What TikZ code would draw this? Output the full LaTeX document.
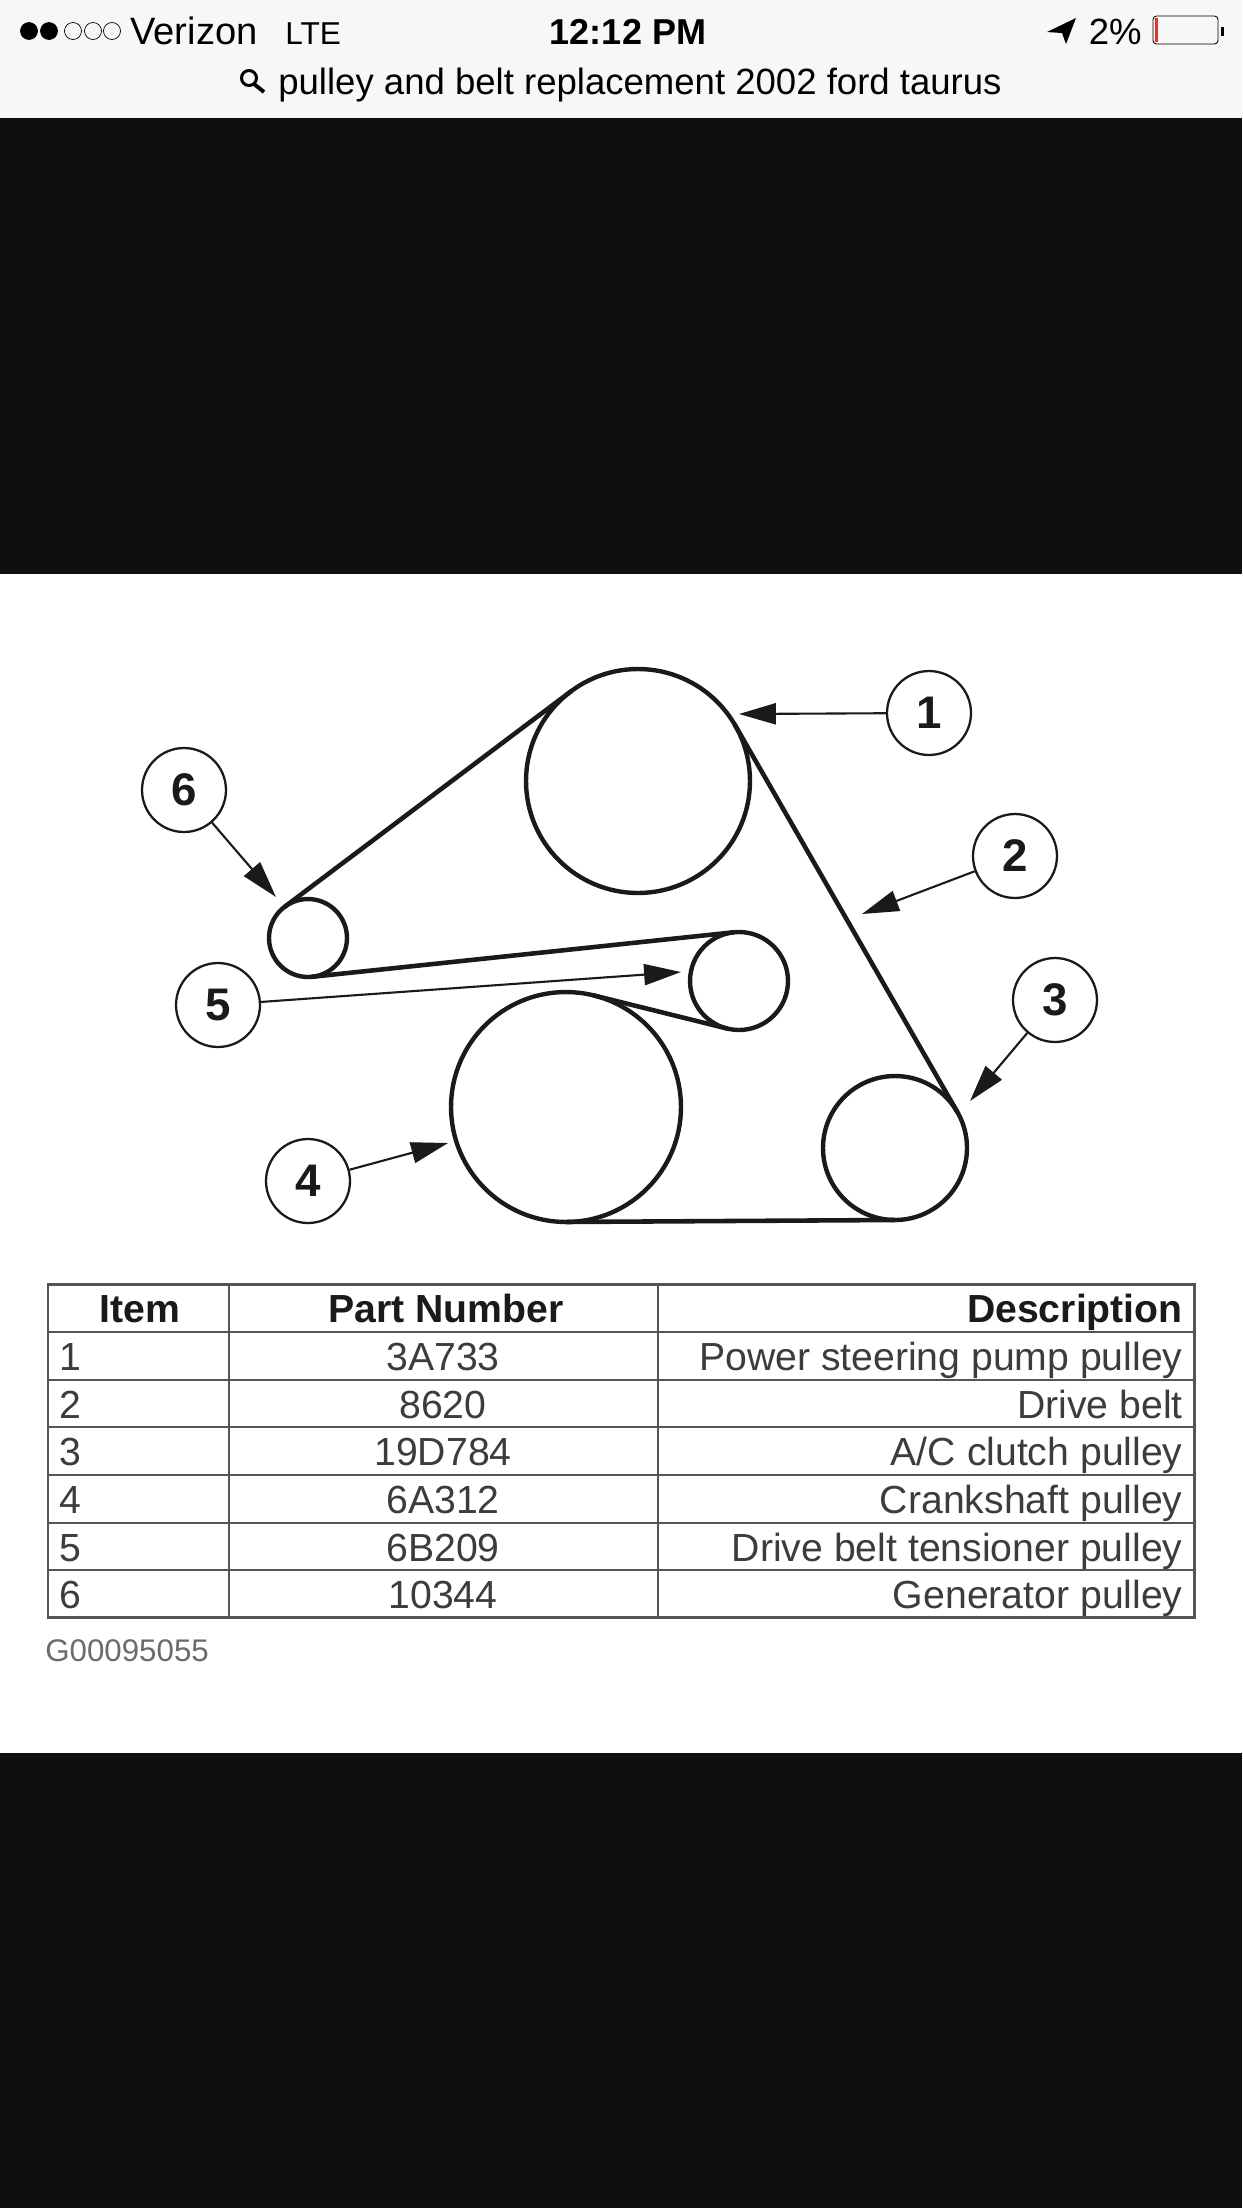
\documentclass[tikz,border=0pt]{standalone}
\usepackage{xcolor}
\usepackage{fontspec}
\setmainfont{Liberation Sans}
\usepackage{tikz}
\usetikzlibrary{
  arrows.meta,
  positioning
}
\definecolor{pgBar}{HTML}{F7F7F7}
\definecolor{pgDark}{HTML}{0F0F0F}
\definecolor{pgInk}{HTML}{1A1A1A}
\definecolor{pgRule}{HTML}{555555}
\definecolor{pgMute}{HTML}{6B6B6B}
\definecolor{pgRed}{HTML}{E0352B}
\tikzset{
  pulley/.style={draw=pgInk, circle, line width=2.5pt, inner sep=0pt, outer sep=0pt},
  belt/.style={draw=pgInk, line width=2.6pt, line cap=round},
  numcircle/.style={
    draw=pgInk, circle, line width=1.3pt, minimum size=2.4cm*0.7, inner sep=0pt,
    font=\fontsize{26}{26}\selectfont\bfseries, text=pgInk
  },
  leader/.style={-{Triangle[length=21pt, width=12pt]}, line width=1.2pt, pgInk},
  headcell/.style={font=\fontsize{22.3}{24}\selectfont\bfseries, text=pgInk, inner sep=0pt, text height=16pt, text depth=0pt},
  cell/.style={font=\fontsize{22.3}{24}\selectfont, text=pgInk!85, inner sep=0pt, text height=16pt, text depth=0pt},
  gridline/.style={draw=pgRule, line width=1.3pt},
  statustext/.style={font=\fontsize{20.8}{22}\selectfont, text=black, inner sep=0pt, text height=15pt, text depth=0pt},
  sigdot/.style={draw=black, circle, line width=0.4pt, minimum size=0.34cm, inner sep=0pt}
}
\begin{document}
\begin{tikzpicture}[x=0.02cm, y=-0.02cm]
  \useasboundingbox (0,0) rectangle (1242,2208);
  % page bands
  \fill[white] (0,574) rectangle (1242,1753);
  \fill[pgBar] (0,0) rectangle (1242,118);
  \fill[pgDark] (0,118) rectangle (1242,574);
  \fill[pgDark] (0,1753) rectangle (1242,2208);

  % status bar
  \node[sigdot, fill=black] (sigA) at (29,31) {};
  \node[sigdot, fill=black] (sigB) at (49,31) {};
  \node[sigdot] (sigC) at (73,31) {};
  \node[sigdot] (sigD) at (93,31) {};
  \node[sigdot] (sigE) at (112,31) {};
  \node[statustext, font=\fontsize{21.7}{22}\selectfont, anchor=west] (carrier) at (130,31) {Verizon};
  \node[statustext, font=\fontsize{18}{22}\selectfont, anchor=west] (lte) at (285,31) {LTE};
  \node[statustext, font=\fontsize{20.5}{22}\selectfont\bfseries] (clock) at (628,31) {12:12 PM};
  \fill[black] (1076,18) -- (1047,32) -- (1062,33) -- (1066,44) -- cycle;
  \node[statustext, anchor=east] (charge) at (1142,31) {2\%};
  \draw[black, line width=0.5pt, rounded corners=2pt] (1153,16) rectangle (1218,44);
  \fill[pgRed] (1155,18) rectangle (1158,42);
  \fill[black] (1221,27) rectangle (1224,36);
  \draw[black, line width=1.7pt] (249,78) circle (7.5);
  \draw[black, line width=2.2pt] (254,84) -- (264,92);
  \node[statustext, anchor=west] (query) at (278,81) {pulley and belt replacement 2002 ford taurus};

  % pulleys
  \node[pulley, minimum size=4.48cm] (steering) at (638,781) {};
  \node[pulley, minimum size=1.56cm] (generator) at (308,938) {};
  \node[pulley, minimum size=1.96cm] (tensioner) at (739,981) {};
  \node[pulley, minimum size=4.60cm] (crank) at (566,1107) {};
  \node[pulley, minimum size=2.88cm] (clutch) at (895,1148) {};

  % drive belt
  \draw[belt] (generator.127) -- (steering.127);
  \draw[belt] (steering.30) -- (clutch.30);
  \draw[belt] (clutch.270) -- (crank.270);
  \draw[belt] (crank.76) -- (tensioner.256);
  \draw[belt] (tensioner.96) -- (generator.276);

  % item numbers
  \node[numcircle] (numOne) at (929,713) {1};
  \node[numcircle] (numTwo) at (1015,856) {2};
  \node[numcircle] (numThree) at (1055,1000) {3};
  \node[numcircle] (numFour) at (308,1181) {4};
  \node[numcircle] (numFive) at (218,1005) {5};
  \node[numcircle] (numSix) at (184,790) {6};
  \coordinate (tipOne) at (739,714);
  \coordinate (tipTwo) at (862,914);
  \coordinate (tipThree) at (970,1101);
  \coordinate (tipFour) at (448,1143);
  \coordinate (tipFive) at (681,972);
  \coordinate (tipSix) at (276,897);
  \draw[leader] (numOne) -- (tipOne);
  \draw[leader] (numTwo) -- (tipTwo);
  \draw[leader] (numThree) -- (tipThree);
  \draw[leader] (numFour) -- (tipFour);
  \draw[leader] (numFive) -- (tipFive);
  \draw[leader] (numSix) -- (tipSix);

  % parts table
  \draw[gridline, line width=1.7pt] (48,1284) rectangle (1194,1617);
  \draw[gridline] (48,1332) -- (1194,1332);
  \draw[gridline] (48,1380) -- (1194,1380);
  \draw[gridline] (48,1427) -- (1194,1427);
  \draw[gridline] (48,1475) -- (1194,1475);
  \draw[gridline] (48,1523) -- (1194,1523);
  \draw[gridline] (48,1570) -- (1194,1570);
  \draw[gridline] (229,1284) -- (229,1617);
  \draw[gridline] (658,1284) -- (658,1617);

  \node[headcell] (headItem) at (140,1308) {Item};
  \node[headcell] (headPart) at (446,1308) {Part Number};
  \node[headcell, anchor=east] (headDesc) at (1183,1308) {Description};

  \node[cell, anchor=west] (itemOne) at (59,1356) {1};
  \node[cell] (partOne) at (443,1356) {3A733};
  \node[cell, anchor=east] (descOne) at (1183,1356) {Power steering pump pulley};
  \node[cell, anchor=west] (itemTwo) at (59,1404) {2};
  \node[cell] (partTwo) at (443,1404) {8620};
  \node[cell, anchor=east] (descTwo) at (1183,1404) {Drive belt};
  \node[cell, anchor=west] (itemThree) at (59,1451) {3};
  \node[cell] (partThree) at (443,1451) {19D784};
  \node[cell, anchor=east] (descThree) at (1183,1451) {A/C clutch pulley};
  \node[cell, anchor=west] (itemFour) at (59,1499) {4};
  \node[cell] (partFour) at (443,1499) {6A312};
  \node[cell, anchor=east] (descFour) at (1183,1499) {Crankshaft pulley};
  \node[cell, anchor=west] (itemFive) at (59,1547) {5};
  \node[cell] (partFive) at (443,1547) {6B209};
  \node[cell, anchor=east] (descFive) at (1183,1547) {Drive belt tensioner pulley};
  \node[cell, anchor=west] (itemSix) at (59,1594) {6};
  \node[cell] (partSix) at (443,1594) {10344};
  \node[cell, anchor=east] (descSix) at (1183,1594) {Generator pulley};
  \node[cell, anchor=west, font=\fontsize{17.8}{20}\selectfont, text=pgMute, text height=13pt] (figId) at (45,1650) {G00095055};
\end{tikzpicture}
\end{document}
